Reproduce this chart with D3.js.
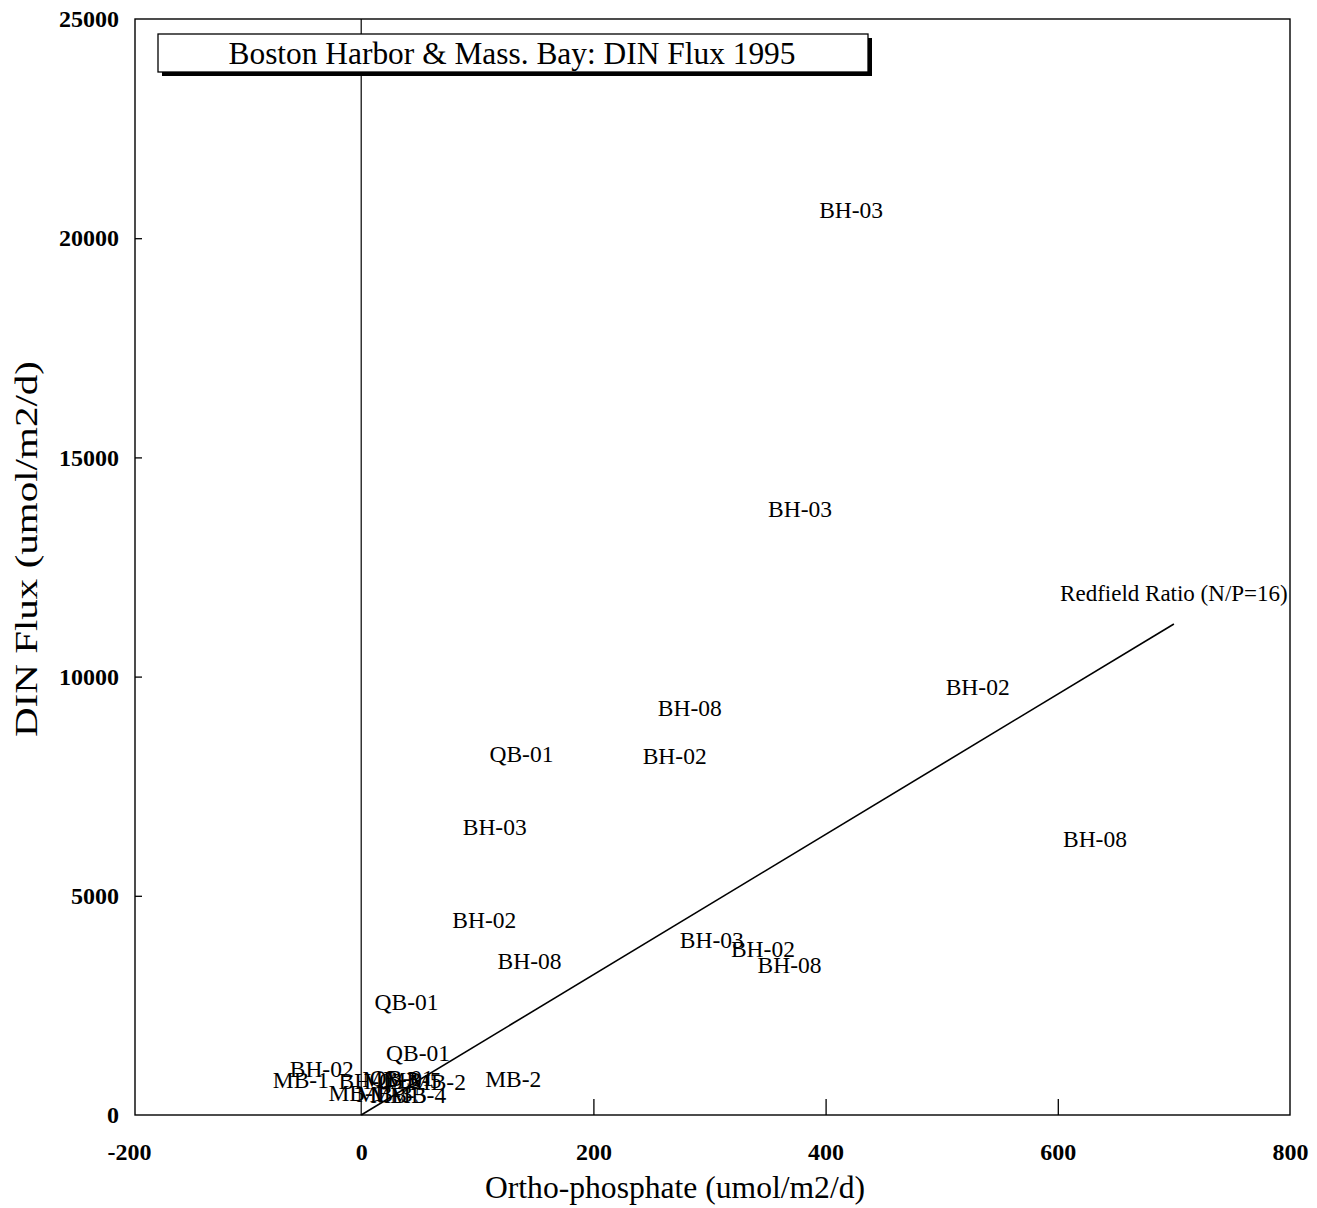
<!DOCTYPE html>
<html>
<head>
<meta charset="utf-8">
<script src="https://cdn.jsdelivr.net/npm/d3@7"></script>
<style>
  html, body { margin: 0; padding: 0; background: #fff; }
  svg { display: block; }
  text { font-family: "Liberation Serif", "Times New Roman", serif; fill: #000; }
</style>
</head>
<body>
<svg id="chart" width="1317" height="1208"></svg>
<script>
// ---- data ----
const stations = ["BH-03","BH-03","BH-02","BH-08","QB-01","BH-02","BH-03","BH-08","BH-02","BH-08",
                  "BH-03","BH-02","BH-08","QB-01","QB-01","MB-2",
                  "BH-02","MB-1","BH-03","MB-3","QB-01","MB-5","MB-2",
                  "MB-1","MB-3","MB-5","MB-4"];
const phosphate = [422, 378, 531, 283, 138, 270, 115, 632, 106, 145,
                   302, 346, 369, 39, 49, 131,
                   -34, -52, 8, 25, 35, 45, 66,
                   -4, 20, 32, 49];
const dinFlux = [20650, 13820, 9760, 9280, 8230, 8190, 6570, 6300, 4450, 3510,
                 3990, 3790, 3420, 2580, 1410, 820,
                 1050, 800, 775, 820, 850, 800, 760,
                 500, 480, 470, 450];
const xTicks = [-200, 0, 200, 400, 600, 800];
const yTicks = [0, 5000, 10000, 15000, 20000, 25000];
const redfieldRatio = 16;
const redfieldX = [0, 700];
const redfieldLabel = "Redfield Ratio (N/P=16)";
const redfieldLabelPos = [700, 11900];
const titleText = "Boston Harbor & Mass. Bay: DIN Flux 1995";
const xTitle = "Ortho-phosphate (umol/m2/d)";
const yTitle = "DIN Flux (umol/m2/d)";

// ---- layout ----
const svg = d3.select("#chart");
const frame = {left: 135, right: 1290, top: 19, bottom: 1115};
const x = d3.scaleLinear().domain([-200, 800]).range([129, 1290]);
const y = d3.scaleLinear().domain([0, 25000]).range([1115, 19]);
const fmt = d => String(d); // plain hyphen minus like the original

// frame
svg.append("rect")
  .attr("x", frame.left).attr("y", frame.top)
  .attr("width", frame.right - frame.left).attr("height", frame.bottom - frame.top)
  .attr("fill", "none").attr("stroke", "#000").attr("stroke-width", 1.4);

// zero line
svg.append("line")
  .attr("x1", x(0)).attr("x2", x(0))
  .attr("y1", frame.top).attr("y2", frame.bottom)
  .attr("stroke", "#000").attr("stroke-width", 1.2);

// x axis (inward ticks)
const xAxis = d3.axisBottom(x).tickValues(xTicks).tickSize(-16).tickPadding(28).tickFormat(fmt);
const gx = svg.append("g").attr("transform", `translate(0,${frame.bottom})`).call(xAxis);
gx.select(".domain").remove();
gx.selectAll(".tick line").attr("stroke", "#000").attr("stroke-width", 1.3)
  .filter(d => d === -200 || d === 0 || d === 800).remove();
gx.selectAll(".tick text").attr("font-size", 24).attr("font-weight", "bold")
  .style("font-family", "'Liberation Serif', serif").attr("fill", "#000");

// y axis (inward ticks)
const yAxis = d3.axisLeft(y).tickValues(yTicks).tickSize(-7).tickPadding(16).tickFormat(fmt);
const gy = svg.append("g").attr("transform", `translate(${frame.left},0)`).call(yAxis);
gy.select(".domain").remove();
gy.selectAll(".tick line").attr("stroke", "#000").attr("stroke-width", 1.3)
  .filter(d => d === 0 || d === 25000).remove();
gy.selectAll(".tick text").attr("font-size", 24).attr("font-weight", "bold")
  .style("font-family", "'Liberation Serif', serif").attr("fill", "#000");

// Redfield line
svg.append("line")
  .attr("x1", x(redfieldX[0])).attr("y1", y(redfieldX[0] * redfieldRatio))
  .attr("x2", x(redfieldX[1])).attr("y2", y(redfieldX[1] * redfieldRatio))
  .attr("stroke", "#000").attr("stroke-width", 1.6);
svg.append("text")
  .attr("x", x(redfieldLabelPos[0])).attr("y", y(redfieldLabelPos[1]))
  .attr("dy", "0.35em").attr("text-anchor", "middle").attr("font-size", 23)
  .text(redfieldLabel);

// point labels
svg.append("g").selectAll("text")
  .data(stations.map((s, i) => ({s, px: phosphate[i], n: dinFlux[i]})))
  .join("text")
  .attr("x", d => x(d.px)).attr("y", d => y(d.n))
  .attr("dy", "0.35em").attr("text-anchor", "middle").attr("font-size", 23.5)
  .text(d => d.s);

// title box with shadow
const tb = {x: 158, y: 34, w: 710, h: 38};
svg.append("rect").attr("x", tb.x + 4).attr("y", tb.y + 4).attr("width", tb.w).attr("height", tb.h).attr("fill", "#000");
svg.append("rect").attr("x", tb.x).attr("y", tb.y).attr("width", tb.w).attr("height", tb.h)
  .attr("fill", "#fff").attr("stroke", "#000").attr("stroke-width", 1.3);
svg.append("text").attr("x", 512).attr("y", tb.y + tb.h / 2).attr("dy", "0.35em")
  .attr("text-anchor", "middle").attr("font-size", 31)
  .attr("textLength", 567).attr("lengthAdjust", "spacingAndGlyphs").text(titleText);

// axis titles
svg.append("text").attr("x", 675).attr("y", 1198)
  .attr("text-anchor", "middle").attr("font-size", 31)
  .attr("textLength", 380).attr("lengthAdjust", "spacingAndGlyphs").text(xTitle);
svg.append("text").attr("transform", `translate(37,549) rotate(-90)`)
  .attr("text-anchor", "middle").attr("font-size", 31)
  .attr("textLength", 376).attr("lengthAdjust", "spacingAndGlyphs").text(yTitle);
</script>
</body>
</html>
